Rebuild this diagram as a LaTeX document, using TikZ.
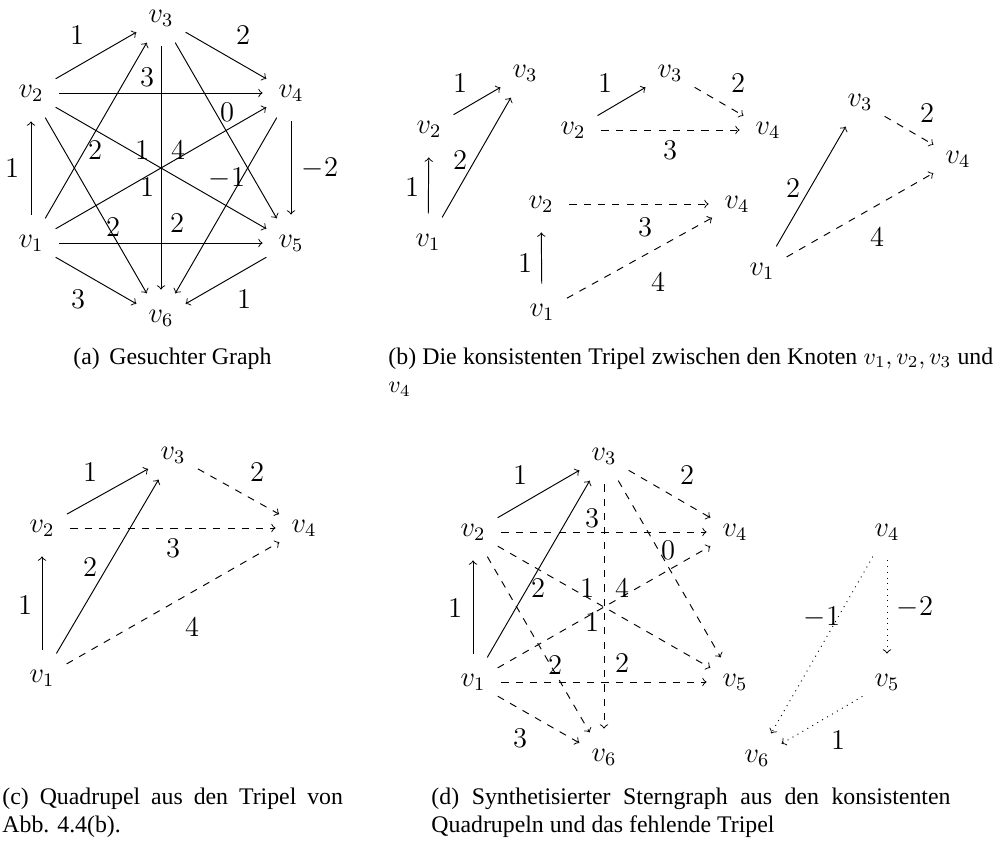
\documentclass[tikz,border=0pt]{standalone}
\usepackage{fontspec}
\newfontfamily\capfont{Liberation Serif}
\begin{document}
\begin{tikzpicture}[x=0.42pt,y=-0.42pt,
  vx/.style={circle,inner sep=0pt,minimum size=23.5pt,font=\large},
  lb/.style={inner sep=0pt,font=\large},
  arr/.style={->},
  dsh/.style={->,dashed},
  dtt/.style={->,dotted},
  captxt/.style={inner sep=0pt,font=\capfont\normalsize}]
\useasboundingbox (0,0) rectangle (1003,843);

% ---------------- (a) ----------------
\node[vx] (a1) at (31,243) {$v_1$};
\node[vx] (a2) at (31,93) {$v_2$};
\node[vx] (a3) at (161,18) {$v_3$};
\node[vx] (a4) at (291,93) {$v_4$};
\node[vx] (a5) at (291,243) {$v_5$};
\node[vx] (a6) at (161,318) {$v_6$};
\draw[arr] (a2) -- (a3);
\draw[arr] (a3) -- (a4);
\draw[arr] (a2) -- (a4);
\draw[arr] (a1) -- (a2);
\draw[arr] (a4) -- (a5);
\draw[arr] (a1) -- (a3);
\draw[arr] (a2) -- (a5);
\draw[arr] (a1) -- (a4);
\draw[arr] (a3) -- (a6);
\draw[arr] (a3) -- (a5);
\draw[arr] (a4) -- (a6);
\draw[arr] (a2) -- (a6);
\draw[arr] (a1) -- (a5);
\draw[arr] (a1) -- (a6);
\draw[arr] (a5) -- (a6);
\node[lb] (la1) at (77,35) {$1$};
\node[lb] (la2) at (243,35) {$2$};
\node[lb] (la3) at (147,77) {$3$};
\node[lb] (la4) at (227,112) {$0$};
\node[lb] (la5) at (12,168) {$1$};
\node[lb] (la6) at (320,168) {$-2$};
\node[lb] (la7) at (95,150) {$2$};
\node[lb] (la8) at (142,150) {$1$};
\node[lb] (la9) at (178,150) {$4$};
\node[lb] (la10) at (147,187) {$1$};
\node[lb] (la11) at (227,178) {$-1$};
\node[lb] (la12) at (113,227) {$2$};
\node[lb] (la13) at (177,223) {$2$};
\node[lb] (la14) at (78,299) {$3$};
\node[lb] (la15) at (244,299) {$1$};
\node[captxt,anchor=base west] (capa) at (73,364) {(a)\hspace{4pt}Gesuchter Graph};

% ---------------- (b) ----------------
\node[vx] (p1) at (428,242) {$v_1$};
\node[vx] (p2) at (429,129) {$v_2$};
\node[vx] (p3) at (525,73) {$v_3$};
\draw[arr] (p2) -- (p3);
\draw[arr] (p1) -- (p2);
\draw[arr] (p1) -- (p3);
\node[lb] (lp1) at (460,83) {$1$};
\node[lb] (lp2) at (412,187) {$1$};
\node[lb] (lp3) at (460,160) {$2$};

\node[vx] (q2) at (573,130) {$v_2$};
\node[vx] (q3) at (670,73) {$v_3$};
\node[vx] (q4) at (768,130) {$v_4$};
\draw[arr] (q2) -- (q3);
\draw[dsh] (q3) -- (q4);
\draw[dsh] (q2) -- (q4);
\node[lb] (lq1) at (605,83) {$1$};
\node[lb] (lq2) at (738,83) {$2$};
\node[lb] (lq3) at (670,150) {$3$};

\node[vx] (r2) at (541,204) {$v_2$};
\node[vx] (r4) at (737,204) {$v_4$};
\node[vx] (r1) at (542,312) {$v_1$};
\draw[dsh] (r2) -- (r4);
\draw[arr] (r1) -- (r2);
\draw[dsh] (r1) -- (r4);
\node[lb] (lr1) at (645,227) {$3$};
\node[lb] (lr2) at (525,263) {$1$};
\node[lb] (lr3) at (658,282) {$4$};

\node[vx] (s3) at (860,102) {$v_3$};
\node[vx] (s4) at (958,159) {$v_4$};
\node[vx] (s1) at (762,271) {$v_1$};
\draw[arr] (s1) -- (s3);
\draw[dsh] (s3) -- (s4);
\draw[dsh] (s1) -- (s4);
\node[lb] (ls1) at (793,188) {$2$};
\node[lb] (ls2) at (927,113) {$2$};
\node[lb] (ls3) at (877,237) {$4$};

\node[captxt,anchor=base west,text width=254pt,align=justify] (capb) at (388,364)
  {(b) Die konsistenten Tripel zwischen den Knoten $v_1, v_2, v_3$ und\linebreak $v_4$};

% ---------------- (c) ----------------
\node[vx] (c1) at (42,678) {$v_1$};
\node[vx] (c2) at (42,528) {$v_2$};
\node[vx] (c3) at (173,455) {$v_3$};
\node[vx] (c4) at (304,528) {$v_4$};
\draw[arr] (c2) -- (c3);
\draw[arr] (c1) -- (c3);
\draw[arr] (c1) -- (c2);
\draw[dsh] (c3) -- (c4);
\draw[dsh] (c2) -- (c4);
\draw[dsh] (c1) -- (c4);
\node[lb] (lc1) at (90,472) {$1$};
\node[lb] (lc2) at (257,472) {$2$};
\node[lb] (lc3) at (173,548) {$3$};
\node[lb] (lc4) at (90,567) {$2$};
\node[lb] (lc5) at (25,605) {$1$};
\node[lb] (lc6) at (192,627) {$4$};
\node[captxt,anchor=base west,text width=143pt,align=justify] (capc) at (2,804)
  {(c) Quadrupel aus den Tripel von\linebreak Abb. 4.4(b).};

% ---------------- (d) ----------------
\node[vx] (d1) at (473,682) {$v_1$};
\node[vx] (d2) at (473,532) {$v_2$};
\node[vx] (d3) at (604,456) {$v_3$};
\node[vx] (d4) at (735,532) {$v_4$};
\node[vx] (d5) at (735,682) {$v_5$};
\node[vx] (d6) at (604,757) {$v_6$};
\draw[arr] (d2) -- (d3);
\draw[arr] (d1) -- (d3);
\draw[arr] (d1) -- (d2);
\draw[dsh] (d3) -- (d4);
\draw[dsh] (d2) -- (d4);
\draw[dsh] (d1) -- (d4);
\draw[dsh] (d3) -- (d6);
\draw[dsh] (d3) -- (d5);
\draw[dsh] (d2) -- (d5);
\draw[dsh] (d2) -- (d6);
\draw[dsh] (d1) -- (d5);
\draw[dsh] (d1) -- (d6);
\node[lb] (ld1) at (520,475) {$1$};
\node[lb] (ld2) at (687,475) {$2$};
\node[lb] (ld3) at (592,518) {$3$};
\node[lb] (ld4) at (668,550) {$0$};
\node[lb] (ld5) at (538,588) {$2$};
\node[lb] (ld6) at (587,588) {$1$};
\node[lb] (ld7) at (622,588) {$4$};
\node[lb] (ld8) at (592,622) {$1$};
\node[lb] (ld9) at (455,608) {$1$};
\node[lb] (ld10) at (555,665) {$2$};
\node[lb] (ld11) at (622,663) {$2$};
\node[lb] (ld12) at (520,738) {$3$};

\node[vx] (e4) at (887,532) {$v_4$};
\node[vx] (e5) at (887,682) {$v_5$};
\node[vx] (e6) at (757,758) {$v_6$};
\draw[dtt] (e4) -- (e5);
\draw[dtt] (e4) -- (e6);
\draw[dtt] (e5) -- (e6);
\node[lb] (le1) at (915,607) {$-2$};
\node[lb] (le2) at (822,617) {$-1$};
\node[lb] (le3) at (838,740) {$1$};

\node[captxt,anchor=base west,text width=218pt,align=justify] (capd) at (431,804)
  {(d) Synthetisierter Sterngraph aus den konsistenten\linebreak Quadrupeln und das fehlende Tripel};
\end{tikzpicture}
\end{document}
